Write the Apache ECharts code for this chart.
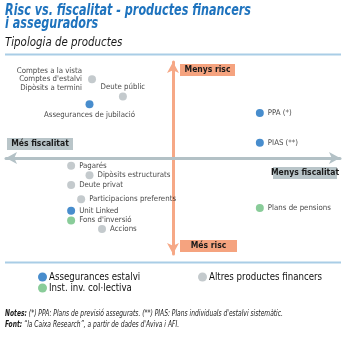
<!DOCTYPE html>
<html><head><meta charset="utf-8">
<script src="https://cdn.jsdelivr.net/npm/echarts@6/dist/echarts.min.js"></script>
<style>html,body{margin:0;padding:0;background:#fff}#c{width:346px;height:338px}</style>
</head><body><div id="c"></div>
<script>
// Fiscalitat (x: + = menys fiscalitat), Risc (y: + = menys risc)
const segNames = ['Assegurances estalvi', 'Inst. inv. col·lectiva', 'Altres productes financers'];
const segColors = ['#1a70c0', '#6cbf80', '#b5bdc1'];

const assegNames = ['Assegurances de jubilació', 'PPA (*)', 'PIAS (**)', 'Unit Linked'];
const assegX = [-5.0, 5.2, 5.2, -6.1];
const assegY = [5.6, 4.7, 1.6, -5.5];

const instNames = ['Plans de pensions', "Fons d'inversió"];
const instX = [5.2, -6.1];
const instY = [-5.2, -6.5];

const altresNames = ["Comptes a la vista\nComptes d'estalvi\nDipòsits a termini", 'Deute públic', 'Pagarés', 'Dipòsits estructurats', 'Deute privat', 'Participacions preferents', 'Accions'];
const altresX = [-4.85, -3.0, -6.1, -5.0, -6.1, -5.5, -4.25];
const altresY = [8.2, 6.4, -0.8, -1.8, -2.8, -4.3, -7.4];

const labelPos = {
  "Comptes a la vista\nComptes d'estalvi\nDipòsits a termini": {position: 'left', align: 'right', distance: 6, lineHeight: 8.6},
  'Deute públic': {position: 'top', distance: 2},
  'Assegurances de jubilació': {position: 'bottom', distance: 3}
};

const NARROW = "'Liberation Sans Narrow', 'DejaVu Sans Condensed', sans-serif";

function build(names, xs, ys) {
  return names.map((n, i) => {
    const d = {name: n, value: [xs[i], ys[i]]};
    if (labelPos[n]) d.label = labelPos[n];
    return d;
  });
}

const groups = [
  build(assegNames, assegX, assegY),
  build(instNames, instX, instY),
  build(altresNames, altresX, altresY)
];

const chart = echarts.init(document.getElementById('c'), null, {renderer: 'canvas'});
const boxText = {fontFamily: NARROW, fontSize: 8.5, fontWeight: 'bold', fill: '#1a1a1a'};
const legendText = {fontFamily: NARROW, fontSize: 9.6, color: '#111', padding: [0, 0, 0, -3]};

chart.setOption({
  animation: false,
  grid: {left: 6, right: 6, top: 62, bottom: 84},
  xAxis: {
    type: 'value', min: -10, max: 10,
    axisLine: {onZero: true, symbol: ['arrow', 'arrow'], symbolSize: [9, 11], lineStyle: {color: '#b3c1c6', width: 3}},
    axisTick: {show: false}, axisLabel: {show: false}, splitLine: {show: false}
  },
  yAxis: {
    type: 'value', min: -10, max: 10,
    axisLine: {onZero: true, symbol: ['arrow', 'arrow'], symbolSize: [9, 11], lineStyle: {color: '#f6a886', width: 3}},
    axisTick: {show: false}, axisLabel: {show: false}, splitLine: {show: false}
  },
  legend: [
    {data: [segNames[0], segNames[1]], orient: 'vertical', left: 33, top: 267, itemWidth: 9, itemHeight: 9, itemGap: 1, icon: 'circle', textStyle: legendText},
    {data: [segNames[2]], orient: 'vertical', left: 193, top: 267, itemWidth: 9, itemHeight: 9, itemGap: 1, icon: 'circle', textStyle: legendText}
  ],
  series: groups.map((g, i) => ({
    name: segNames[i], type: 'scatter', data: g, symbolSize: 8, z: 5,
    itemStyle: {color: segColors[i]},
    label: {show: true, position: 'right', distance: 4, formatter: '{b}', fontFamily: NARROW, fontSize: 7.8, color: '#111'}
  })),
  graphic: [
    {type: 'text', x: 5, y: 4, scaleX: 0.83, style: {text: 'Risc vs. fiscalitat - productes financers\ni asseguradors', fontFamily: NARROW, fontSize: 15, fontWeight: 'bold', fontStyle: 'italic', fill: '#1e73be', lineHeight: 13.5, verticalAlign: 'top'}},
    {type: 'text', x: 5, y: 37, scaleX: 0.95, style: {text: 'Tipologia de productes', fontFamily: NARROW, fontSize: 12, fontStyle: 'italic', fill: '#1a1a1a', verticalAlign: 'top'}},
    {type: 'line', shape: {x1: 5, y1: 54.5, x2: 341, y2: 54.5}, style: {stroke: '#a9cde6', lineWidth: 2}},
    {type: 'line', shape: {x1: 5, y1: 262.5, x2: 341, y2: 262.5}, style: {stroke: '#a9cde6', lineWidth: 2}},
    {type: 'rect', shape: {x: 180, y: 64, width: 55, height: 12}, style: {fill: '#f5a37f'}},
    {type: 'text', x: 207.5, y: 70, style: Object.assign({text: 'Menys risc', align: 'center', verticalAlign: 'middle'}, boxText)},
    {type: 'rect', shape: {x: 180, y: 240, width: 57, height: 12}, style: {fill: '#f5a37f'}},
    {type: 'text', x: 208.5, y: 246, style: Object.assign({text: 'Més risc', align: 'center', verticalAlign: 'middle'}, boxText)},
    {type: 'rect', shape: {x: 7, y: 138, width: 66, height: 12}, style: {fill: '#b9c5c9'}},
    {type: 'text', x: 40, y: 144, style: Object.assign({text: 'Més fiscalitat', align: 'center', verticalAlign: 'middle'}, boxText)},
    {type: 'rect', shape: {x: 273, y: 167, width: 64, height: 12}, style: {fill: '#b9c5c9'}},
    {type: 'text', x: 305, y: 173, style: Object.assign({text: 'Menys fiscalitat', align: 'center', verticalAlign: 'middle'}, boxText)},
    {type: 'text', x: 5, y: 308, scaleX: 0.78, style: {
      text: "{b|Notes:} (*) PPA: Plans de previsió assegurats. (**) PIAS: Plans individuals d'estalvi sistemàtic.\n{b|Font:} \u201Cla Caixa Research\u201D, a partir de dades d'Aviva i AFI.",
      fontFamily: NARROW, fontSize: 8.5, fontStyle: 'italic', fill: '#1a1a1a', lineHeight: 11, verticalAlign: 'top',
      rich: {b: {fontFamily: NARROW, fontSize: 8.5, fontStyle: 'italic', fontWeight: 'bold', fill: '#1a1a1a'}}
    }}
  ]
});
</script></body></html>
